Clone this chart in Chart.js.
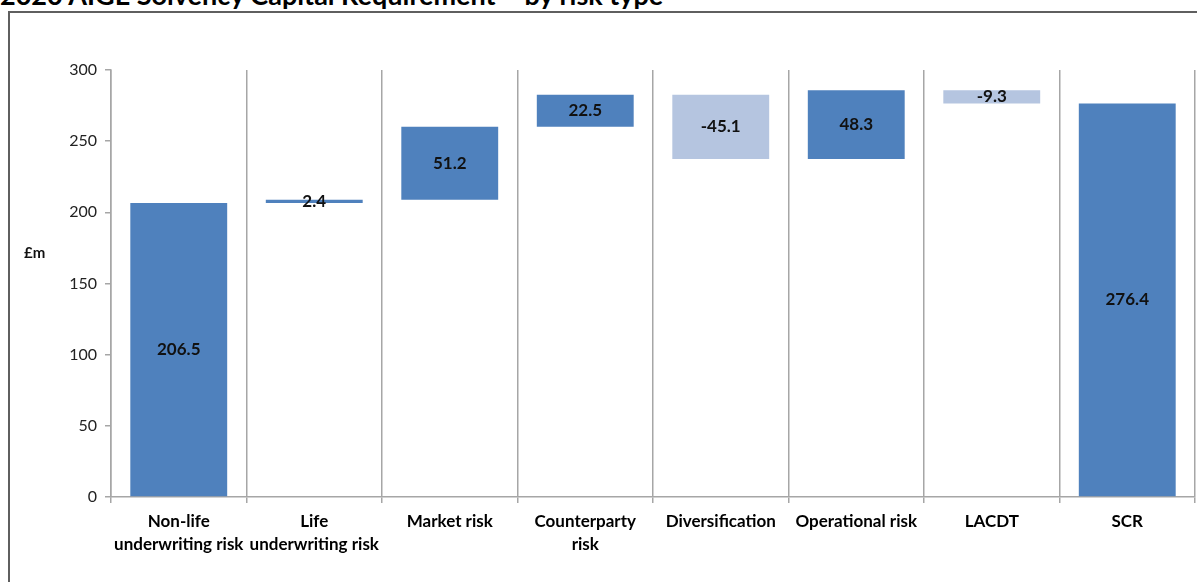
<!DOCTYPE html>
<html>
<head>
<meta charset="utf-8">
<script src="https://cdn.jsdelivr.net/npm/chart.js@4.4.1/dist/chart.umd.min.js"></script>
<style>
  html, body { margin: 0; padding: 0; background: #fff; overflow: hidden; }
  #title {
    position: absolute; left: 0; top: -19px;
    font: bold 27px Lato, "Open Sans", sans-serif; line-height: 27px;
    color: #000; white-space: nowrap;
  }
  #frame {
    position: absolute; left: 8px; top: 11px; width: 1400px; height: 800px;
    border: 2px solid #5f5f5f;
  }
  #wrap { position: absolute; left: 0; top: 0; width: 1197px; height: 582px; }
</style>
</head>
<body>
<div id="title">2020 AIGE Solvency Capital Requirement – by risk type</div>
<div id="frame"></div>
<div id="wrap"><canvas id="myChart" width="1197" height="582"></canvas></div>
<script>
// categorias y valores
const categories = [
	["Non-life", "underwriting risk"],
	["Life", "underwriting risk"],
	"Market risk",
	["Counterparty", "risk"],
	"Diversification",
	"Operational risk",
	"LACDT",
	"SCR"
];
const stepValues = [206.5, 2.4, 51.2, 22.5, -45.1, 48.3, -9.3, 276.4];
const isTotal = [false, false, false, false, false, false, false, true];
const yTicks = [0, 50, 100, 150, 200, 250, 300];

const darkBlue = "#4F81BD";
const lightBlue = "#B5C5E0";

// armar rangos flotantes del waterfall
let running = 0;
const ranges = stepValues.map((v, i) => {
	if (i === 0 || isTotal[i]) {
		running = v;
		return [0, v];
	}
	const start = running;
	running = running + v;
	return [start, running];
});
const colors = stepValues.map(v => v < 0 ? lightBlue : darkBlue);

const valueLabels = {
	id: "valueLabels",
	afterDatasetsDraw(chart) {
		const ctx = chart.ctx;
		const meta = chart.getDatasetMeta(0);
		ctx.save();
		ctx.font = "bold 17px Lato, sans-serif";
		ctx.fillStyle = "#111";
		ctx.textAlign = "center";
		ctx.textBaseline = "middle";
		meta.data.forEach((bar, i) => {
			const mid = (bar.y + bar.base) / 2;
			ctx.fillText(stepValues[i].toFixed(1), bar.x, mid);
		});
		// titulo del eje y
		ctx.font = "bold 15px Lato, sans-serif";
		ctx.textAlign = "left";
		ctx.fillText("£m", 24, 253);
		ctx.restore();
	}
};

const config = {
	type: "bar",
	data: {
		labels: categories,
		datasets: [{
			data: ranges,
			backgroundColor: colors,
			borderWidth: 0,
			borderSkipped: false,
			categoryPercentage: 1,
			barPercentage: 0.715
		}]
	},
	options: {
		responsive: false,
		animation: false,
		layout: { padding: { top: 70, right: 2, left: 0, bottom: 0 } },
		plugins: {
			legend: { display: false },
			tooltip: { enabled: false }
		},
		scales: {
			x: {
				offset: true,
				grid: {
					offset: true,
					color: "#a6a6a6",
					lineWidth: 1.5,
					tickLength: 6
				},
				border: { color: "#a6a6a6", width: 1.5 },
				ticks: {
					color: "#000",
					font: { family: "Lato", size: 17, weight: "bold", lineHeight: 1.35 },
					padding: 7,
					maxRotation: 0,
					autoSkip: false
				},
				afterFit: s => { s.height = 85; }
			},
			y: {
				min: 0,
				max: 300,
				afterBuildTicks: s => { s.ticks = yTicks.map(v => ({ value: v })); },
				grid: {
					drawOnChartArea: false,
					color: "#a6a6a6",
					lineWidth: 1.5,
					tickLength: 6
				},
				border: { color: "#a6a6a6", width: 1.5 },
				ticks: {
					color: "#222",
					font: { family: "Lato", size: 16 },
					padding: 8
				},
				afterFit: s => { s.width = 111; }
			}
		}
	},
	plugins: [valueLabels]
};

new Chart(document.getElementById("myChart"), config);
</script>
</body>
</html>
